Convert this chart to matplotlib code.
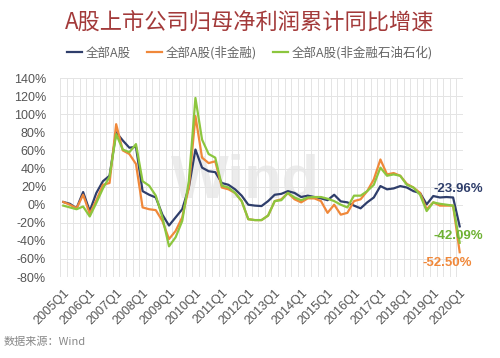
import numpy as np
import matplotlib
matplotlib.use('Agg')
import matplotlib.pyplot as plt

# 季度 2005Q1 ~ 2020Q1
quarters = [f'{y}Q{q}' for y in range(2005, 2021) for q in range(1, 5)][:61]

# 全部A股
all_a = [3, 1, -4, 14, -7, 13, 26, 32, 80, 71, 63, 64, 15, 11, 8, -11, -23, -14, -5, 19,
         61, 41, 37, 36, 24, 22, 17, 10, 0, -1, -1.5, 4, 11, 12, 15, 13, 8.5, 10, 8.5, 7,
         5, 11, 3.7, 2.6, -1, -4, 2.6, 8, 20.6, 17, 18, 20.6, 19, 15, 13, 0.4, 9.6, 8, 8.5, 8,
         -23.96]
# 全部A股(非金融)
non_fin = [3, 0, -4, 11, -10, 5, 22, 24, 89, 60, 56, 45, -3, -5, -6, -18, -38, -29, -14, 19,
           98, 52, 46, 48, 19, 17, 13, 4, -16, -17, -17, -12, 4, 6, 13, 6, 2.6, 7, 7, 4,
           -9, 0, -11, -9, 4, 6, 15, 28, 50, 33.5, 35, 32, 23, 19, 13, -5, 2.6, -1, -1, -1,
           -52.50]
# 全部A股(非金融石油石化)
non_fin_oil = [-1, -3, -5, -2, -13, 2, 18, 31, 78, 61, 58, 67, 26, 21, 10, -14, -46, -36, -18, 26,
               118, 72, 56, 52, 21, 19, 13, 4, -16, -17, -17, -12, 4, 5, 13, 8, 5, 8, 8.5, 8.5,
               6.6, 4, 0, -3, 10, 10, 15, 22, 41, 32, 33.5, 32, 22, 19, 11, -7, 2.6, 1, 0, -1,
               -42.09]

c_blue = '#2f3e6b'
c_orange = '#f0883a'
c_green = '#8cc63e'
cjk = ['Noto Sans CJK SC', 'DejaVu Sans']

plt.rcParams['font.family'] = ['Liberation Sans', 'Noto Sans CJK SC']

fig = plt.figure(figsize=(5, 3.58), dpi=100)
ax = fig.add_axes([0.12, 0.226, 0.806, 0.556])

x = np.arange(len(quarters))
ax.plot(x, all_a, color=c_blue, lw=1.6, label='全部A股')
ax.plot(x, non_fin, color=c_orange, lw=1.6, label='全部A股(非金融)')
ax.plot(x, non_fin_oil, color=c_green, lw=1.6, label='全部A股(非金融石油石化)')

ax.set_xlim(-0.5, len(quarters) - 0.5)
ax.set_ylim(-80, 140)
ax.set_yticks(np.arange(-80, 141, 20))
ax.set_yticklabels([f'{v}%' for v in range(-80, 141, 20)])
ax.set_xticks(x[::4])
ax.set_xticklabels(quarters[::4], rotation=45, ha='right', rotation_mode='anchor')
ax.set_xticks(np.arange(-0.5, len(quarters), 1), minor=True)
ax.grid(True, which='minor', axis='x', color='#e4e4e4', lw=0.7)
ax.grid(True, which='major', axis='y', color='#e4e4e4', lw=0.7)
ax.tick_params(axis='both', which='both', length=0, colors='#555555', labelsize=9)
ax.tick_params(axis='y', pad=10)
ax.tick_params(axis='x', pad=7)
for s in ax.spines.values():
    s.set_visible(False)
ax.set_axisbelow(True)

# 水印
ax.text(0.46, 0.48, 'Wind', transform=ax.transAxes, fontsize=44, fontweight='bold',
        color='#ececec', ha='center', va='center', zorder=0)

# 末值标注
ax.annotate(f'{all_a[-1]:.2f}%', (x[-1], all_a[-1]), xytext=(-1, 27), textcoords='offset points',
            ha='center', va='center', color=c_blue, fontsize=9.5, fontweight='bold')
ax.annotate(f'{non_fin_oil[-1]:.2f}%', (x[-1], non_fin_oil[-1]), xytext=(-1, 5), textcoords='offset points',
            ha='center', va='center', color='#6fb234', fontsize=9.5, fontweight='bold')
ax.annotate(f'{non_fin[-1]:.2f}%', (x[-1], non_fin[-1]), xytext=(-9, -8), textcoords='offset points',
            ha='center', va='center', color=c_orange, fontsize=9.5, fontweight='bold')

fig.text(0.5, 0.938, 'A股上市公司归母净利润累计同比增速', ha='center', va='center',
         fontsize=16, color='#a33a3a', family=cjk)
leg = fig.legend(loc='center', bbox_to_anchor=(0.5, 0.852), ncol=3, frameon=False,
                 handlelength=1.2, columnspacing=1.3, handletextpad=0.3,
                 prop={'family': cjk, 'size': 9})
for t in leg.get_texts():
    t.set_color('#666666')
fig.text(0.008, 0.045, '数据来源：Wind', ha='left', va='center', fontsize=8,
         color='#888888', family=cjk)

fig.savefig('out.png', dpi=100)
